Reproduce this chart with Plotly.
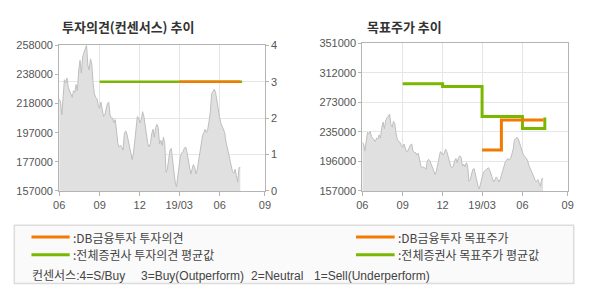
import plotly.graph_objects as go
import pandas as pd

# ---- data ----
price_values = [
    220900, 218700, 209800, 223100, 234200, 232000, 235400, 228700, 226500, 225400,
    222000, 226500, 225400, 230900, 226500, 240900, 247600, 238700, 249800, 253100,
    255300, 258000, 244200, 240900, 248700, 245300, 232000, 224300, 222000, 220900,
    216500, 214300, 218700, 214300, 208700, 209800, 213200, 217600, 218700, 209800,
    207600, 207600, 204300, 206500, 198700, 189800, 187600, 188700, 187600, 185400,
    196500, 198700, 196500, 192100, 187600, 181000, 178700, 183200, 192100, 201000,
    208700, 207600, 204300, 206500, 212000, 208700, 202100, 197600, 189800, 187600,
    189800, 196500, 199800, 194300, 201000, 203200, 201000, 189800, 192100, 188700,
    194300, 189800, 169900, 172100, 178700, 185400, 186500, 178700, 167600, 163200,
    159900, 167600, 176500, 181000, 183200, 184300, 186500, 187600, 184300, 178700,
    172100, 168800, 172100, 175400, 173200, 168800, 172100, 178700, 183200, 192100,
    195400, 197600, 199800, 197600, 199800, 205400, 212000, 224300, 226500, 227600,
    225400, 218700, 212000, 208700, 204300, 202100, 199800, 197600, 191000, 187600,
    183200, 178700, 175400, 170500, 169400, 172100, 167600, 163200, 173200, 173200,
]
price_start = "2018-06-01"
price_end = "2019-07-18"

# consensus opinion (4=S/Buy, 3=Buy, 2=Neutral, 1=Sell)
avg_opinion_dates = ["2018-09-01", "2019-07-22"]
avg_opinion_values = [3, 3]
db_opinion_dates = ["2019-03-01", "2019-07-18"]
db_opinion_values = [3, 3]

# target prices
avg_target_dates = ["2018-09-01", "2018-12-01", "2019-03-01", "2019-06-01", "2019-07-22", "2019-07-22"]
avg_target_values = [298000, 294500, 255000, 239000, 239000, 253500]
db_target_dates = ["2019-03-01", "2019-04-14", "2019-07-19"]
db_target_values = [211000, 250500, 250500]

x_tick_vals = ["2018-06-01", "2018-09-01", "2018-12-01", "2019-03-01", "2019-06-01", "2019-09-12"]
x_tick_text = ["06", "09", "12", "19/03", "06", "09"]
x_range = ["2018-06-01", "2019-09-12"]

left_price_ticks = [157000, 177200, 197400, 217600, 237800, 258000]
left_price_text = ["157000", "177000", "197000", "218000", "238000", "258000"]
right_price_ticks = [157000, 195800, 234600, 273400, 312200, 351000]
right_price_text = ["157000", "196000", "235000", "273000", "312000", "351000"]

ORANGE = "#F27A00"
GREEN = "#7AB800"
AREA = "#E0E0E0"
AREA_LINE = "#BEBEBE"
GRID = "#E6E6E6"
AXIS = "#B4B4B4"
TICKFONT = dict(family="Liberation Sans, Arial, sans-serif", size=11, color="#555555")

dates = pd.date_range(price_start, price_end, periods=len(price_values))

fig = go.Figure()

# left chart: price area + opinion lines
fig.add_trace(go.Scatter(x=dates, y=price_values, mode="lines", fill="tozeroy",
                         fillcolor=AREA, line=dict(color=AREA_LINE, width=1),
                         xaxis="x", yaxis="y", hoverinfo="skip", showlegend=False))
fig.add_trace(go.Scatter(x=avg_opinion_dates, y=avg_opinion_values, mode="lines",
                         line=dict(color=GREEN, width=2.5), xaxis="x", yaxis="y2",
                         showlegend=False))
fig.add_trace(go.Scatter(x=db_opinion_dates, y=db_opinion_values, mode="lines",
                         line=dict(color=ORANGE, width=2.5), xaxis="x", yaxis="y2",
                         showlegend=False))

# right chart: price area + target price lines
fig.add_trace(go.Scatter(x=dates, y=price_values, mode="lines", fill="tozeroy",
                         fillcolor=AREA, line=dict(color=AREA_LINE, width=1),
                         xaxis="x2", yaxis="y3", hoverinfo="skip", showlegend=False))
fig.add_trace(go.Scatter(x=avg_target_dates, y=avg_target_values, mode="lines",
                         line=dict(color=GREEN, width=3, shape="hv"), xaxis="x2", yaxis="y3",
                         showlegend=False))
fig.add_trace(go.Scatter(x=db_target_dates, y=db_target_values, mode="lines",
                         line=dict(color=ORANGE, width=3, shape="hv"), xaxis="x2", yaxis="y3",
                         showlegend=False))

common_x = dict(type="date", range=x_range, tickmode="array", tickvals=x_tick_vals,
                ticktext=x_tick_text, showgrid=True, gridcolor=GRID, gridwidth=1,
                showline=True, linecolor=AXIS, linewidth=1, mirror=True,
                ticks="outside", ticklen=4, tickcolor=AXIS, tickfont=TICKFONT,
                zeroline=False, fixedrange=True)

fig.update_layout(
    width=590, height=300,
    margin=dict(l=0, r=0, t=0, b=0),
    paper_bgcolor="white", plot_bgcolor="white",
    showlegend=False,
    xaxis=dict(domain=[54.3 / 590, 264.3 / 590], anchor="y", **common_x),
    yaxis=dict(domain=[1 - 192.7 / 300, 1 - 41 / 300], range=[157000, 258000],
               tickmode="array", tickvals=left_price_ticks, ticktext=left_price_text,
               showgrid=False, showline=True, linecolor=AXIS, ticks="outside",
               ticklen=3, tickcolor=AXIS, tickfont=TICKFONT, zeroline=False, anchor="x"),
    yaxis2=dict(overlaying="y", side="right", anchor="x", range=[0, 4], dtick=1,
                showgrid=True, gridcolor=GRID, showline=True, linecolor=AXIS,
                ticks="outside", ticklen=3, tickcolor=AXIS, tickfont=TICKFONT, zeroline=False),
    xaxis2=dict(domain=[363.7 / 590, 573.3 / 590], anchor="y3", **common_x),
    yaxis3=dict(domain=[1 - 192.7 / 300, 1 - 39 / 300], range=[157000, 351000],
                tickmode="array", tickvals=right_price_ticks, ticktext=right_price_text,
                showgrid=True, gridcolor=GRID, showline=True, linecolor=AXIS, mirror=True,
                ticks="outside", ticklen=3, tickcolor=AXIS, tickfont=TICKFONT,
                zeroline=False, anchor="x2"),
)

TITLE_FONT = dict(family="Noto Sans CJK KR", size=13, color="#333333")
fig.add_annotation(text="<b>투자의견(컨센서스) 추이</b>", x=55 / 590, y=1 - 21.5 / 300,
                   xref="paper", yref="paper", xanchor="left", yanchor="middle",
                   showarrow=False, font=TITLE_FONT)
fig.add_annotation(text="<b>목표주가 추이</b>", x=366 / 590, y=1 - 21.5 / 300,
                   xref="paper", yref="paper", xanchor="left", yanchor="middle",
                   showarrow=False, font=TITLE_FONT)

# legend box
fig.add_shape(type="rect", xref="paper", yref="paper",
              x0=8.5 / 590, x1=579.5 / 590, y0=1 - 289 / 300, y1=1 - 228.5 / 300,
              fillcolor="#FAFAFA", line=dict(color="#DCDCDC", width=1.5), layer="below")

LEG_FONT = dict(family="Noto Sans CJK KR", size=12, color="#444444")
NOTE_FONT = dict(family="Liberation Sans, Noto Sans CJK KR", size=12, color="#444444")
legend_rows = [
    (26, 65, 240.7, ORANGE, ":DB금융투자 투자의견"),
    (26, 65, 259, GREEN, ":전체증권사 투자의견 평균값"),
    (357.3, 396.7, 240.7, ORANGE, ":DB금융투자 목표주가"),
    (357.3, 396.7, 259, GREEN, ":전체증권사 목표주가 평균값"),
]
for x0, x1, yy, col, txt in legend_rows:
    fig.add_shape(type="line", xref="paper", yref="paper", x0=x0 / 590, x1=x1 / 590,
                  y0=1 - yy / 300, y1=1 - yy / 300, line=dict(color=col, width=3))
    fig.add_annotation(text=txt, x=(x1 + 1) / 590, y=1 - yy / 300, xref="paper", yref="paper",
                       xanchor="left", yanchor="middle", showarrow=False, font=LEG_FONT)

note_parts = [(25, "컨센서스:4=S/Buy"), (136, "3=Buy(Outperform)"),
              (248, "2=Neutral"), (312, "1=Sell(Underperform)")]
for xx, txt in note_parts:
    fig.add_annotation(text=txt, x=xx / 590, y=1 - 281 / 300, xref="paper", yref="paper",
                       xanchor="left", yanchor="middle", showarrow=False, font=NOTE_FONT)

fig.write_html("out.html")
